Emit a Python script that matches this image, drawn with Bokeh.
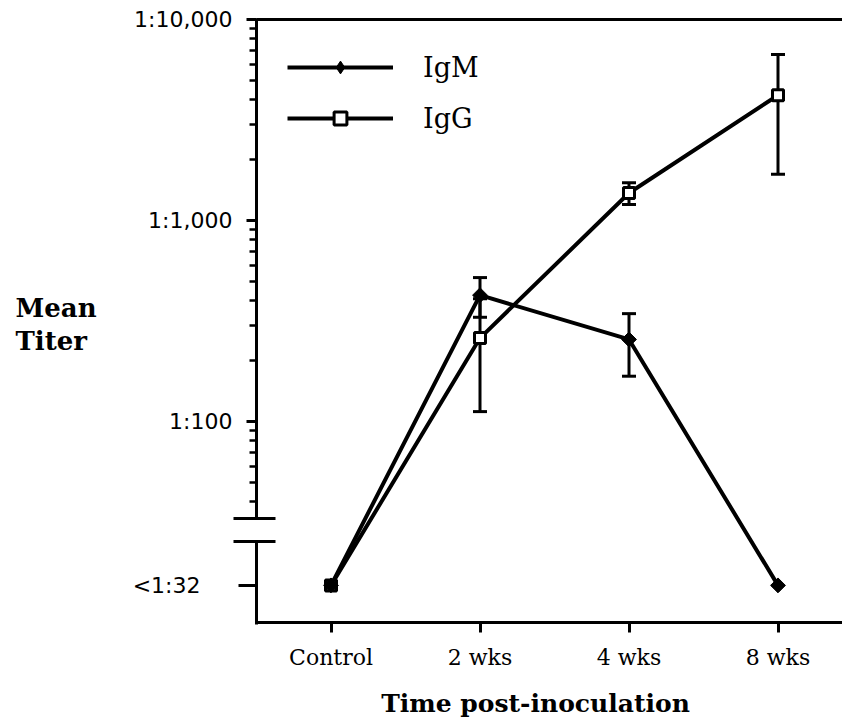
import math
from bokeh.plotting import figure
from bokeh.models import (Range1d, FixedTicker, LinearAxis, LogAxis, Label,
                          Whisker, TeeHead, ColumnDataSource, Legend, LegendItem)
from bokeh.embed import file_html
from bokeh.resources import INLINE

# ---------------- data ----------------
categories = ["Control", "2 wks", "4 wks", "8 wks"]
below_label = "<1:32"          # below detection limit
below_pos = 15.3               # axis position used for "<1:32"
igm_mean = [below_pos, 425, 256, below_pos]
igm_err = [0, 95, 88, 0]
igg_mean = [below_pos, 260, 1370, 4200]
igg_err = [0, 148, 170, 2500]
y_ticks = [100, 1000, 10000]
y_tick_labels = ["1:100", "1:1,000", "1:10,000"]
y_minor = [40, 50, 60, 70, 80, 90,
           200, 300, 400, 500, 600, 700, 800, 900,
           2000, 3000, 4000, 5000, 6000, 7000, 8000, 9000]
y_bottom, y_top = 10, 10000
break_lo, break_hi = 25.3, 32.9

# ---------------- geometry (whole canvas is the frame) ----------------
W, H = 842, 720
PX_PER_X = 149.0
X_SPINE, SPINE_PX = -0.5, 256
PX_PER_DEC, TOP_PX = 201.0, 19

def xpx(px):
    return X_SPINE + (px - SPINE_PX) / PX_PER_X

def ypx(py):
    return 10 ** (math.log10(y_top) - (py - TOP_PX) / PX_PER_DEC)

X_END = xpx(W)
xs = list(range(len(categories)))

p = figure(width=W, height=H, output_backend="svg", toolbar_location=None,
           y_axis_type="log", x_range=Range1d(xpx(0), X_END),
           y_range=Range1d(ypx(H), ypx(0)),
           min_border_left=0, min_border_right=0, min_border_top=0,
           min_border_bottom=0)
p.outline_line_color = None
p.grid.visible = False

# ---------------- x axis ----------------
xa = p.xaxis[0]
xa.fixed_location = y_bottom
xa.bounds = (X_SPINE - 1.5 / PX_PER_X, X_END)
xa.ticker = FixedTicker(ticks=xs)
xa.major_label_overrides = {i: c for i, c in zip(xs, categories)}
xa.major_tick_out = 10
xa.major_tick_in = 0
xa.minor_tick_out = 0
xa.minor_tick_in = 0
xa.axis_line_width = 3
xa.major_tick_line_width = 3
xa.major_label_text_font = "DejaVu Serif"
xa.major_label_text_font_size = "22px"
xa.major_label_text_color = "black"
xa.major_label_standoff = 12

# ---------------- y axis (upper part, above the break) ----------------
ya = p.yaxis[0]
ya.fixed_location = X_SPINE
ya.bounds = (break_hi, ypx(TOP_PX - 1.5))
ya.ticker = FixedTicker(ticks=y_ticks, minor_ticks=y_minor)
ya.major_label_overrides = {t: l for t, l in zip(y_ticks, y_tick_labels)}
ya.axis_line_width = 3
ya.major_tick_out = 10
ya.major_tick_in = 0
ya.minor_tick_out = 7
ya.minor_tick_in = 0
ya.major_tick_line_width = 3
ya.minor_tick_line_width = 2.5
ya.major_label_text_font = "DejaVu Sans"
ya.major_label_text_font_size = "22px"
ya.major_label_text_color = "black"
ya.major_label_standoff = 14

# ---------------- y axis (lower part, below the break) ----------------
ya2 = LogAxis(fixed_location=X_SPINE, bounds=(ypx(622 + 1.5), break_lo),
              ticker=FixedTicker(ticks=[below_pos], minor_ticks=[]),
              major_label_overrides={below_pos: below_label},
              axis_line_width=3, major_tick_out=18, major_tick_in=0,
              minor_tick_out=0, minor_tick_in=0, major_tick_line_width=3,
              major_label_text_font="DejaVu Sans",
              major_label_text_font_size="22px",
              major_label_text_color="black", major_label_standoff=38)
p.add_layout(ya2, "left")

# top border line
top = LinearAxis(fixed_location=y_top, bounds=(X_SPINE, X_END),
                 ticker=FixedTicker(ticks=[]), major_tick_out=0, major_tick_in=0,
                 minor_tick_out=0, minor_tick_in=0,
                 major_label_text_font_size="0px", axis_line_width=3)
p.add_layout(top, "above")

# axis break marks
p.segment(x0=[xpx(233)] * 2, x1=[xpx(275)] * 2, y0=[break_lo, break_hi],
          y1=[break_lo, break_hi], line_width=3, line_color="black")

# axis titles
for txt, py in (("Mean", 307), ("Titer", 340)):
    p.add_layout(Label(x=xpx(15), y=ypx(py), text=txt,
                       text_align="left", text_baseline="alphabetic",
                       text_font="DejaVu Serif", text_font_style="bold",
                       text_font_size="26px", text_color="black"))
p.add_layout(Label(x=xpx(535), y=ypx(703), text="Time post-inoculation",
                   text_align="center", text_baseline="middle",
                   text_font="DejaVu Serif", text_font_style="bold",
                   text_font_size="25px", text_color="black"))

# ---------------- error bars ----------------
def whisker(means, errs):
    bx, up, lo = [], [], []
    for x, m, e in zip(xs, means, errs):
        if e > 0:
            bx.append(x); up.append(m + e); lo.append(m - e)
    src = ColumnDataSource(dict(x=bx, upper=up, lower=lo))
    w = Whisker(source=src, base="x", upper="upper", lower="lower",
                line_width=3, line_color="black",
                upper_head=TeeHead(size=14, line_width=3, line_color="black"),
                lower_head=TeeHead(size=14, line_width=3, line_color="black"))
    p.add_layout(w)

whisker(igm_mean, igm_err)
whisker(igg_mean, igg_err)

# ---------------- series ----------------
l_m = p.line(xs, igm_mean, line_width=4, line_color="black")
l_g = p.line(xs, igg_mean, line_width=4, line_color="black")
s_g = p.scatter(xs, igg_mean, marker="square", size=11, fill_color="white",
                line_color="black", line_width=3)
# diamond markers (rotated squares); a plain diamond inside is used for the key
p.scatter(xs, igm_mean, marker="square", angle=math.pi / 4, size=10.5,
          fill_color="black", line_color="black")
s_m = p.scatter(xs, igm_mean, marker="diamond", size=12,
                fill_color="black", line_color="black")

lg = Legend(items=[LegendItem(label="IgM", renderers=[l_m, s_m]),
                   LegendItem(label="IgG", renderers=[l_g, s_g])])
lg.location = (287, H - 51 - 83)
lg.margin = 0
lg.padding = 0
lg.glyph_width = 106
lg.glyph_height = 32
lg.label_height = 32
lg.spacing = 19
lg.label_standoff = 30
lg.border_line_color = None
lg.background_fill_alpha = 0
lg.label_text_font = "DejaVu Serif"
lg.label_text_font_size = "27px"
lg.label_text_color = "black"
p.add_layout(lg)

open("out.html", "w").write(file_html(p, INLINE))
